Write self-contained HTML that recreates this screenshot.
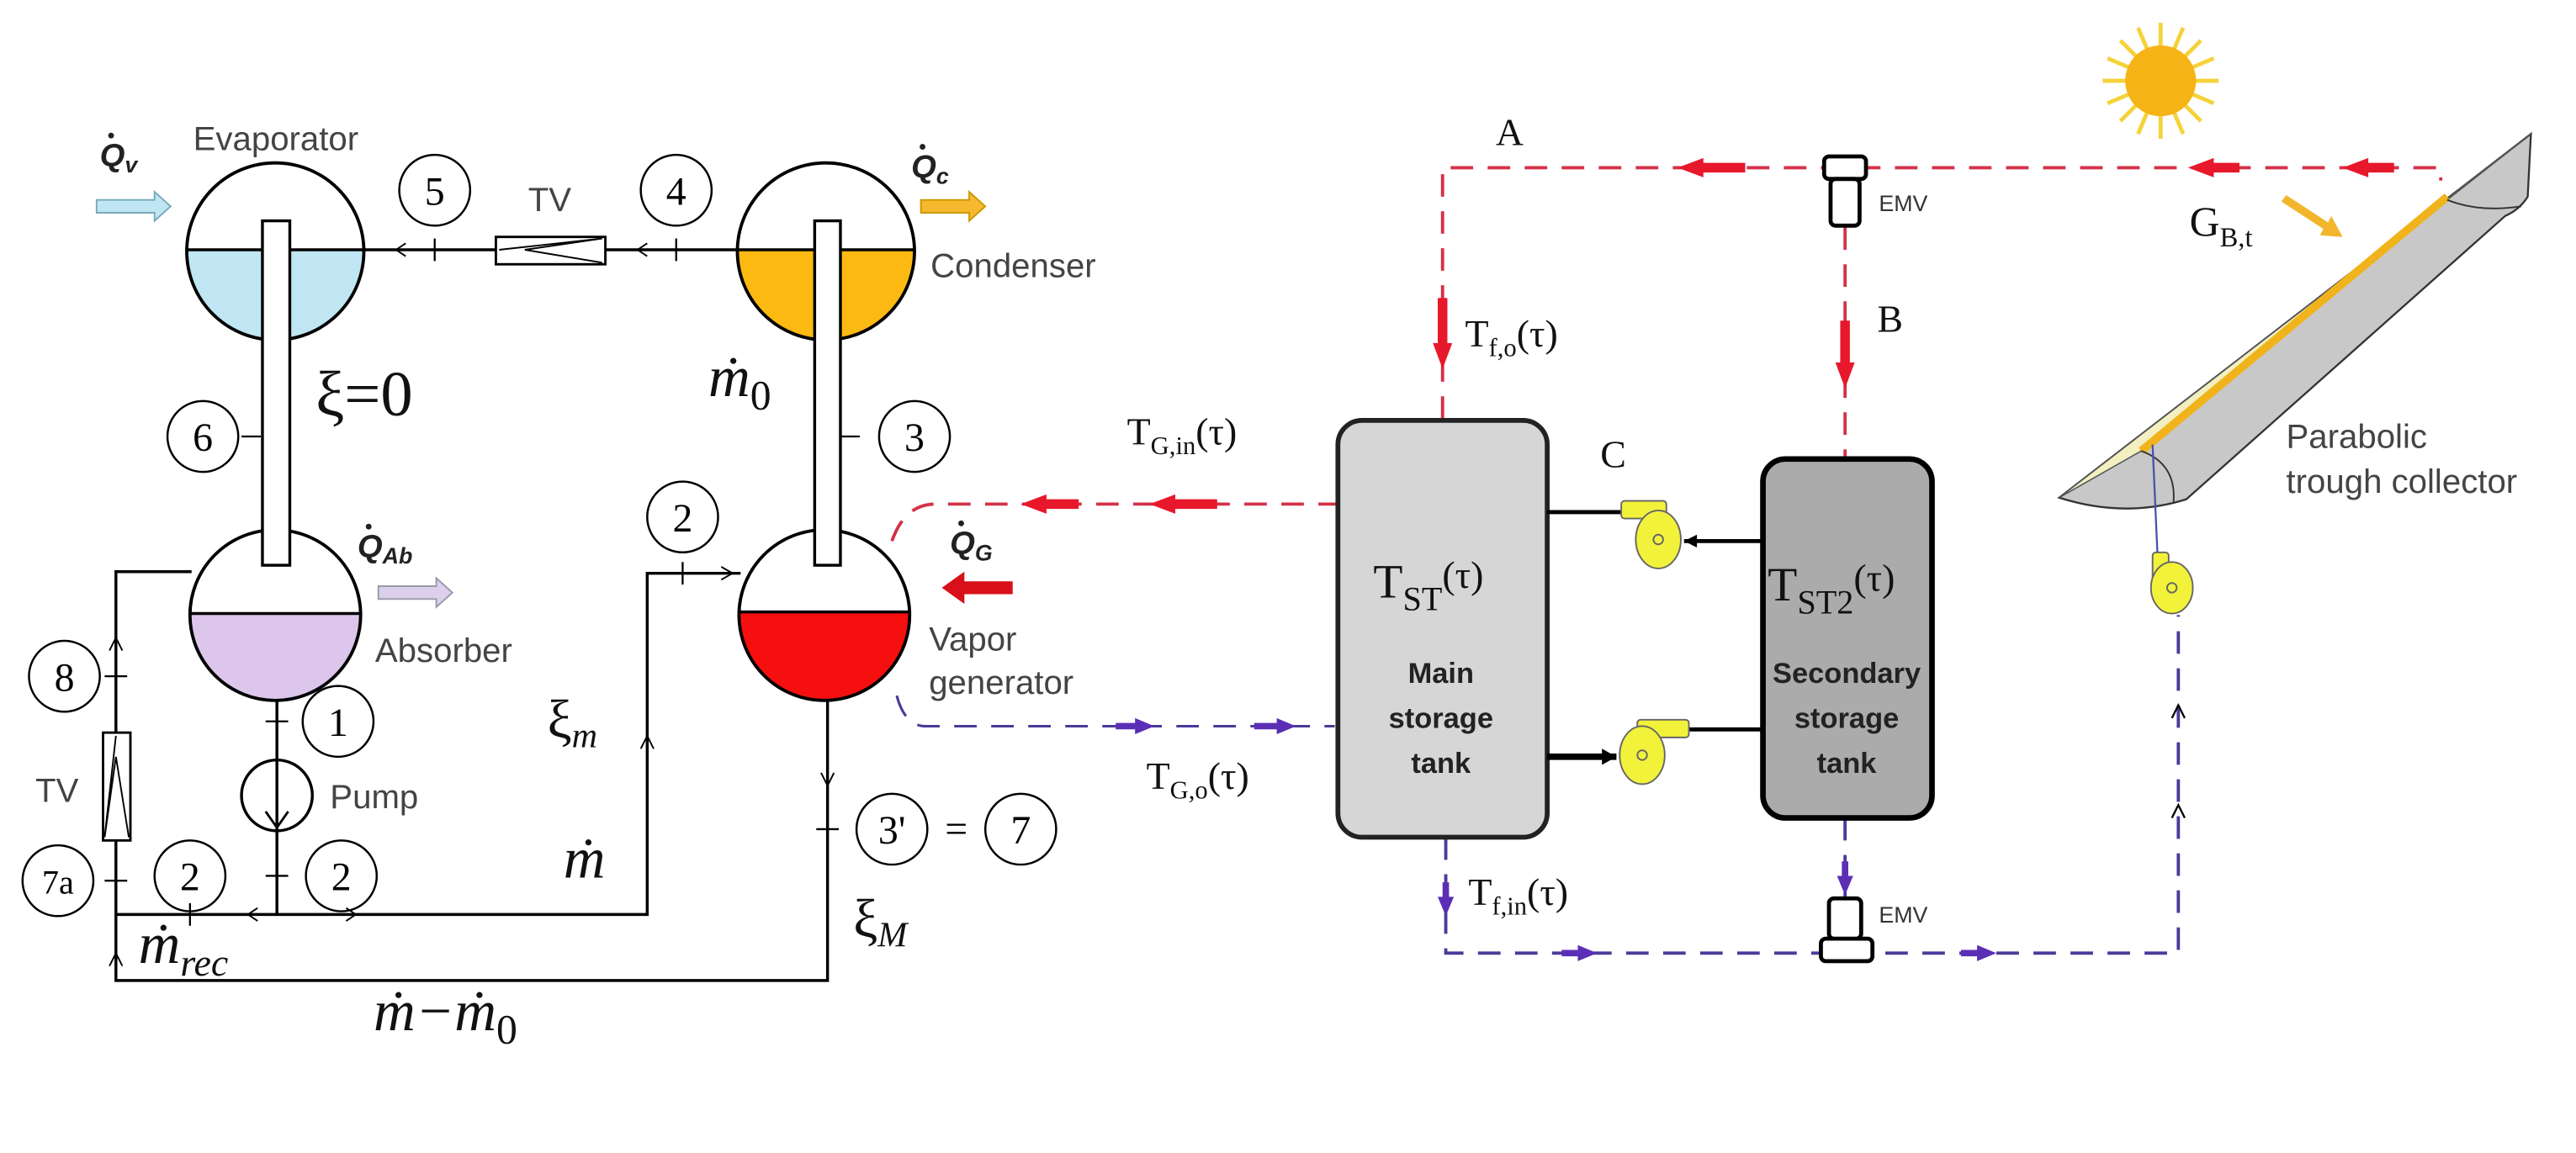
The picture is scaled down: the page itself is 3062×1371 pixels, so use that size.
<!DOCTYPE html>
<html><head><meta charset="utf-8"><style>html,body{margin:0;padding:0;background:#fff}svg{display:block}</style></head>
<body>
<svg width="3062" height="1371" viewBox="0 0 1600 716" xmlns="http://www.w3.org/2000/svg" font-family="Liberation Sans, sans-serif">
<rect width="1600" height="716" fill="#fff"/>
<g stroke="#000" stroke-width="1.8" fill="none">
<line x1="226" y1="155" x2="458" y2="155"/>
<polyline points="119,355 72,355 72,609 514,609 514,435"/>
<polyline points="172,435 172,568"/>
<polyline points="72,568 402,568 402,356 460,356"/>
</g>
<g stroke="#000" stroke-width="1.2">
<line x1="270" y1="148" x2="270" y2="162"/><line x1="420" y1="148" x2="420" y2="162"/>
<line x1="150" y1="271" x2="162" y2="271"/><line x1="522" y1="271" x2="534" y2="271"/>
<line x1="65" y1="420" x2="79" y2="420"/><line x1="65" y1="547" x2="79" y2="547"/>
<line x1="165" y1="448" x2="179" y2="448"/><line x1="165" y1="544" x2="179" y2="544"/>
<line x1="118" y1="561" x2="118" y2="575"/><line x1="424" y1="349" x2="424" y2="363"/>
<line x1="507" y1="515" x2="521" y2="515"/>
</g>
<g fill="none" stroke="#000" stroke-width="1"><polyline points="252,151 246,155 252,159"/><polyline points="402,151 396,155 402,159"/><polyline points="168,262 172,270 176,262"/><polyline points="510,256 514,248 518,256"/><polyline points="68,404 72,396 76,404"/><polyline points="448,352 455,356 448,360"/><polyline points="398,465 402,457 406,465"/><polyline points="510,480 514,488 518,480"/><polyline points="68,600 72,592 76,600"/><polyline points="160,564 154,568 160,572"/><polyline points="215,564 221,568 215,572"/></g>
<rect x="308" y="147" width="68" height="17" fill="#fff" stroke="#000" stroke-width="1.5"/>
<polyline points="310,155 374,148 326,155 374,163" fill="none" stroke="#000" stroke-width="1"/>
<rect x="64" y="455" width="17" height="67" fill="#fff" stroke="#000" stroke-width="1.5"/>
<polyline points="72,457 65,520 72,470 80,520" fill="none" stroke="#000" stroke-width="1"/>
<defs>
<clipPath id="c1"><rect x="100" y="155" width="150" height="80"/></clipPath>
<clipPath id="c2"><rect x="440" y="155" width="150" height="80"/></clipPath>
<clipPath id="c3"><rect x="100" y="381" width="150" height="80"/></clipPath>
<clipPath id="c4"><rect x="440" y="380" width="150" height="80"/></clipPath>
</defs>
<circle cx="171" cy="156" r="55" fill="#fff"/>
<circle cx="171" cy="156" r="55" fill="#bfe6f2" clip-path="url(#c1)"/>
<circle cx="171" cy="156" r="55" fill="none" stroke="#000" stroke-width="2"/>
<line x1="116" y1="155" x2="226" y2="155" stroke="#000" stroke-width="1.8"/>
<circle cx="513" cy="156" r="55" fill="#fff"/>
<circle cx="513" cy="156" r="55" fill="#fcb912" clip-path="url(#c2)"/>
<circle cx="513" cy="156" r="55" fill="none" stroke="#000" stroke-width="2"/>
<line x1="458" y1="155" x2="568" y2="155" stroke="#000" stroke-width="1.8"/>
<circle cx="171" cy="382" r="53" fill="#fff"/>
<circle cx="171" cy="382" r="53" fill="#dcc6ec" clip-path="url(#c3)"/>
<circle cx="171" cy="382" r="53" fill="none" stroke="#000" stroke-width="2"/>
<line x1="118" y1="381" x2="224" y2="381" stroke="#000" stroke-width="1.8"/>
<circle cx="512" cy="382" r="53" fill="#fff"/>
<circle cx="512" cy="382" r="53" fill="#f50f0f" clip-path="url(#c4)"/>
<circle cx="512" cy="382" r="53" fill="none" stroke="#000" stroke-width="2"/>
<line x1="459" y1="380" x2="565" y2="380" stroke="#000" stroke-width="1.8"/>
<rect x="163" y="137" width="17" height="214" fill="#fff" stroke="#000" stroke-width="1.8"/>
<rect x="506" y="137" width="16" height="214" fill="#fff" stroke="#000" stroke-width="1.8"/>
<circle cx="172" cy="494" r="22" fill="#fff" stroke="#000" stroke-width="1.8"/>
<line x1="172" y1="472" x2="172" y2="516" stroke="#000" stroke-width="1.8"/>
<polyline points="165,504 172,514 179,504" fill="none" stroke="#000" stroke-width="1.5"/>
<path d="M60,124 h36 v-5 l10,9 l-10,9 v-5 h-36z" fill="#bfe6f2" stroke="#7ab" stroke-width="1"/>
<path d="M572,124 h30 v-5 l10,9 l-10,9 v-5 h-30z" fill="#f5b82e" stroke="#c90" stroke-width="1"/>
<path d="M235,364 h36 v-5 l10,9 l-10,9 v-5 h-36z" fill="#dcd0ec" stroke="#99a" stroke-width="1"/>
<path d="M629,361 h-30 v-6 l-14,10 l14,10 v-6 h30z" fill="#d8101a"/>
<g font-weight="bold" font-style="italic" font-size="20" fill="#222">
<text x="62" y="103">Q<tspan font-size="14" dy="4">v</tspan></text>
<text x="566" y="110">Q<tspan font-size="14" dy="4">c</tspan></text>
<text x="222" y="346">Q<tspan font-size="14" dy="4">Ab</tspan></text>
<text x="590" y="344">Q<tspan font-size="14" dy="4">G</tspan></text>
</g>
<g fill="#222"><circle cx="69" cy="84" r="1.8"/><circle cx="573" cy="91" r="1.8"/><circle cx="229" cy="327" r="1.8"/><circle cx="597" cy="325" r="1.8"/></g>
<g font-size="21" fill="#444">
<text x="120" y="93">Evaporator</text>
<text x="328" y="131">TV</text>
<text x="578" y="172">Condenser</text>
<text x="233" y="411">Absorber</text>
<text x="577" y="404">Vapor</text>
<text x="577" y="431">generator</text>
<text x="205" y="502">Pump</text>
<text x="22" y="498">TV</text>
</g>
<g font-family="Liberation Serif, serif" font-size="25" text-anchor="middle">
<g fill="none" stroke="#000" stroke-width="1.3">
<circle cx="270" cy="118" r="22"/><circle cx="420" cy="118" r="22"/>
<circle cx="126" cy="271" r="22"/><circle cx="568" cy="271" r="22"/>
<circle cx="424" cy="321" r="22"/><circle cx="40" cy="420" r="22"/>
<circle cx="210" cy="448" r="22"/><circle cx="36" cy="547" r="22"/>
<circle cx="118" cy="544" r="22"/><circle cx="212" cy="544" r="22"/>
<circle cx="554" cy="515" r="22"/><circle cx="634" cy="515" r="22"/>
</g>
<text x="270" y="127">5</text><text x="420" y="127">4</text>
<text x="126" y="280">6</text><text x="568" y="280">3</text>
<text x="424" y="330">2</text><text x="40" y="429">8</text>
<text x="210" y="457">1</text><text x="36" y="555" font-size="21">7a</text>
<text x="118" y="553">2</text><text x="212" y="553">2</text>
<text x="554" y="524">3'</text><text x="634" y="524">7</text>
<text x="594" y="523">=</text>
</g>
<g font-family="Liberation Serif, serif" fill="#111">
<text x="196" y="258" font-size="40">ξ=0</text>
<text x="440" y="246" font-size="36" font-style="italic">ṁ<tspan font-size="26" dy="8" font-style="normal">0</tspan></text>
<text x="340" y="458" font-size="34">ξ<tspan font-size="22" dy="6" font-style="italic">m</tspan></text>
<text x="350" y="545" font-size="36" font-style="italic">ṁ</text>
<text x="530" y="582" font-size="34">ξ<tspan font-size="22" dy="6" font-style="italic">M</tspan></text>
<text x="86" y="598" font-size="36" font-style="italic">ṁ<tspan font-size="24" dy="8">rec</tspan></text>
<text x="232" y="640" font-size="36" font-style="italic">ṁ−ṁ<tspan font-size="26" dy="8" font-style="normal">0</tspan></text>
</g>
<g fill="none" stroke-width="2" stroke-dasharray="14,9">
<path d="M554,336 Q562,313 581,313 L831,313" stroke="#d3324a"/>
<path d="M557,432 Q562,451 575,451 L829,451" stroke="#4b3a9a" stroke-width="1.6"/>
<polyline points="896,260 896,104 1516,104 1516,112" stroke="#d3324a"/>
<polyline points="1146,141 1146,284" stroke="#d3324a"/>
<polyline points="898,520 898,592 1353,592 1353,382" stroke="#4b3a9a"/>
<polyline points="1146,508 1146,560" stroke="#4b3a9a"/>
</g>
<g fill="#e8182c">
<path d="M634,313 l16,-6 v3 h20 v6 h-20 v3z"/><path d="M714,313 l16,-6 v3 h26 v6 h-26 v3z"/>
<path d="M1042,104 l16,-6 v3 h26 v6 h-26 v3z"/><path d="M1359,104 l16,-6 v3 h16 v6 h-16 v3z"/><path d="M1455,104 l16,-6 v3 h16 v6 h-16 v3z"/>
<path d="M896,229 l-6,-16 h3 v-28 h6 v28 h3z"/><path d="M1146,241 l-6,-16 h3 v-26 h6 v26 h3z"/>
</g>
<g fill="#5a2fb5">
<path d="M717,451 l-12,-5 v3 h-12 v4 h12 v3z"/><path d="M805,451 l-12,-5 v3 h-14 v4 h14 v3z"/>
<path d="M898,569 l-5,-12 h3 v-9 h4 v9 h3z"/><path d="M1146,556 l-5,-12 h3 v-9 h4 v9 h3z"/>
<path d="M992,592 l-12,-5 v3 h-10 v4 h10 v3z"/><path d="M1240,592 l-12,-5 v3 h-10 v4 h10 v3z"/>
</g>
<g fill="none" stroke="#000" stroke-width="1.2"><polyline points="1349,508 1353,500 1357,508"/><polyline points="1349,446 1353,438 1357,446"/></g>
<g fill="#fff" stroke="#000" stroke-width="2.5">
<rect x="1133" y="97" width="26" height="14" rx="3"/><rect x="1137" y="111" width="18" height="29" rx="3"/>
<rect x="1131" y="583" width="32" height="14" rx="3"/><rect x="1136" y="558" width="20" height="25" rx="3"/>
</g>
<g font-size="14" fill="#333"><text x="1167" y="131">EMV</text><text x="1167" y="573">EMV</text></g>
<rect x="831" y="261" width="130" height="259" rx="15" fill="#d6d6d6" stroke="#222" stroke-width="3"/>
<rect x="1095" y="285" width="105" height="223" rx="14" fill="#ababab" stroke="#000" stroke-width="3.5"/>
<g stroke="#000" stroke-width="2.5">
<line x1="961" y1="318" x2="1008" y2="318"/><line x1="1095" y1="336" x2="1046" y2="336"/>
<line x1="961" y1="470" x2="1004" y2="470" stroke-width="4"/><line x1="1095" y1="453" x2="1048" y2="453"/>
</g>
<path d="M1046,336 l8,-4 v8z M1004,470 l-9,-5 v10z" fill="#000"/>
<g fill="#f2f23a" stroke="#666" stroke-width="1">
<rect x="1007" y="311" width="28" height="11" rx="2"/><ellipse cx="1030" cy="335" rx="14" ry="18"/>
<rect x="1017" y="447" width="32" height="11" rx="2"/><ellipse cx="1020" cy="469" rx="14" ry="18"/>
<rect x="1337" y="343" width="10" height="18" rx="2"/><ellipse cx="1349" cy="365" rx="13" ry="16"/>
</g>
<g fill="none" stroke="#666" stroke-width="1"><circle cx="1030" cy="335" r="3"/><circle cx="1020" cy="469" r="3"/><circle cx="1349" cy="365" r="3"/></g>
<g font-family="Liberation Serif, serif" fill="#111">
<text x="853" y="371" font-size="30">T<tspan font-size="21" dy="8">ST</tspan><tspan font-size="24" dy="-14">(τ)</tspan></text>
<text x="1098" y="373" font-size="30">T<tspan font-size="21" dy="8">ST2</tspan><tspan font-size="24" dy="-14">(τ)</tspan></text>
<text x="910" y="215" font-size="24">T<tspan font-size="16" dy="6">f,o</tspan><tspan dy="-6">(τ)</tspan></text>
<text x="700" y="276" font-size="24">T<tspan font-size="16" dy="6">G,in</tspan><tspan dy="-6">(τ)</tspan></text>
<text x="712" y="490" font-size="24">T<tspan font-size="16" dy="6">G,o</tspan><tspan dy="-6">(τ)</tspan></text>
<text x="912" y="562" font-size="24">T<tspan font-size="16" dy="6">f,in</tspan><tspan dy="-6">(τ)</tspan></text>
<text x="1360" y="146" font-size="26">G<tspan font-size="17" dy="7">B,t</tspan></text>
<text x="929" y="90" font-size="24">A</text>
<text x="1166" y="206" font-size="24">B</text>
<text x="994" y="290" font-size="24">C</text>
</g>
<g font-size="18" font-weight="bold" fill="#222" text-anchor="middle">
<text x="895" y="424">Main</text><text x="895" y="452">storage</text><text x="895" y="480">tank</text>
<text x="1147" y="424">Secondary</text><text x="1147" y="452">storage</text><text x="1147" y="480">tank</text>
</g>
<g transform="translate(1342,50)">
<g stroke="#f5d23a" stroke-width="2.5">
<line x1="0" y1="-36" x2="0" y2="36"/><line x1="-36" y1="0" x2="36" y2="0"/>
<line x1="-25" y1="-25" x2="25" y2="25"/><line x1="-25" y1="25" x2="25" y2="-25"/>
<line x1="-14" y1="-33" x2="14" y2="33"/><line x1="-33" y1="-14" x2="33" y2="14"/>
<line x1="14" y1="-33" x2="-14" y2="33"/><line x1="33" y1="-14" x2="-33" y2="14"/>
</g>
<circle r="22" fill="#f5b316"/>
</g>
<path d="M1279,309 L1572,83 L1570,122 Q1565,130 1556,134 L1358,310 Q1320,322 1279,309z" fill="#c8c8c8" stroke="#333" stroke-width="1.2"/>
<path d="M1279,309 L1572,83 L1520,124 L1330,280z" fill="#f3efc0" stroke="#555" stroke-width="0.8"/>
<line x1="1330" y1="280" x2="1520" y2="122" stroke="#f1b31b" stroke-width="5"/>
<path d="M1330,280 Q1352,288 1350,312" fill="none" stroke="#333" stroke-width="1"/>
<path d="M1520,124 Q1540,132 1566,128" fill="none" stroke="#333" stroke-width="1"/>
<line x1="1337" y1="276" x2="1340" y2="343" stroke="#4455aa" stroke-width="1.2"/>
<path d="M1420,121 l26,17 l2,-4 l7,13 l-14,-1 l2,-4 l-26,-17z" fill="#f2b52c"/>
<g font-size="21" fill="#444"><text x="1420" y="278">Parabolic</text><text x="1420" y="306">trough collector</text></g>
</svg>
</body></html>
